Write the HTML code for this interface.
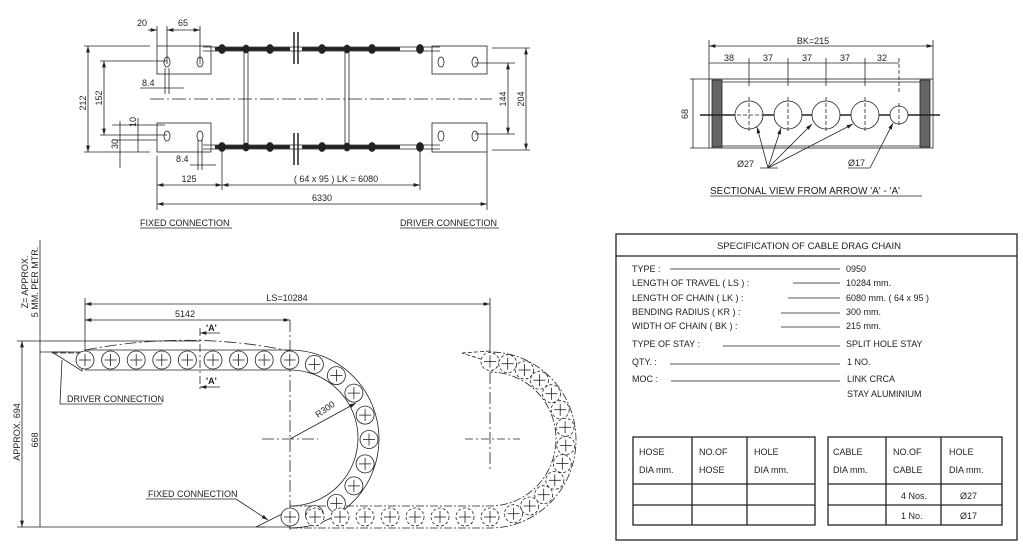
<!DOCTYPE html>
<html><head><meta charset="utf-8"><style>
html,body{margin:0;padding:0;background:#fff;}
svg{display:block;font-family:"Liberation Sans",sans-serif;}
text{fill:#222;}
</style></head><body>
<svg id="s" width="1023" height="547" viewBox="0 0 1023 547" xmlns="http://www.w3.org/2000/svg">
<defs>
<marker id="a" viewBox="0 0 10 6" refX="10" refY="3" markerWidth="8" markerHeight="5" orient="auto-start-reverse"><path d="M0,0L10,3L0,6z" fill="#222"/></marker>
</defs>
<g stroke="#222" stroke-width="0.8" fill="none">
<rect x="157" y="46" width="54" height="28"/>
<rect x="157" y="123" width="54" height="29"/>
<rect x="432" y="46" width="55" height="28"/>
<rect x="432" y="123" width="55" height="29"/>
<line x1="150" y1="99" x2="492" y2="99" stroke-dasharray="14,3,2,3"/>
<line x1="203" y1="47" x2="440" y2="47"/><line x1="203" y1="51" x2="440" y2="51"/>
<line x1="203" y1="145" x2="440" y2="145"/><line x1="203" y1="149" x2="440" y2="149"/>
<line x1="244" y1="49" x2="244" y2="147"/><line x1="248" y1="49" x2="248" y2="147"/>
<line x1="345" y1="49" x2="345" y2="147"/><line x1="349" y1="49" x2="349" y2="147"/>
<g stroke-width="1.5"><line x1="294" y1="32" x2="294" y2="64"/><line x1="298" y1="32" x2="298" y2="64"/><line x1="294" y1="133" x2="294" y2="165"/><line x1="298" y1="133" x2="298" y2="165"/></g>
<g stroke-width="3.5"><line x1="215" y1="49" x2="290" y2="49"/><line x1="302" y1="49" x2="400" y2="49"/><line x1="215" y1="147" x2="290" y2="147"/><line x1="302" y1="147" x2="400" y2="147"/></g>
<g fill="#222"><ellipse cx="222" cy="49" rx="3.5" ry="4.5"/><ellipse cx="246" cy="49" rx="3" ry="4"/><ellipse cx="270" cy="49" rx="3.5" ry="4.5"/><ellipse cx="322" cy="49" rx="3.5" ry="4.5"/><ellipse cx="347" cy="49" rx="3" ry="4"/><ellipse cx="372" cy="49" rx="3.5" ry="4.5"/><ellipse cx="420" cy="49" rx="3.5" ry="4.5"/>
<ellipse cx="222" cy="147" rx="3.5" ry="4.5"/><ellipse cx="246" cy="147" rx="3" ry="4"/><ellipse cx="270" cy="147" rx="3.5" ry="4.5"/><ellipse cx="322" cy="147" rx="3.5" ry="4.5"/><ellipse cx="347" cy="147" rx="3" ry="4"/><ellipse cx="372" cy="147" rx="3.5" ry="4.5"/><ellipse cx="420" cy="147" rx="3.5" ry="4.5"/></g>
<g><ellipse cx="167" cy="62" rx="3" ry="5"/><ellipse cx="200" cy="62" rx="3" ry="5"/><ellipse cx="167" cy="136" rx="3" ry="5"/><ellipse cx="200" cy="136" rx="3" ry="5"/><ellipse cx="441" cy="62" rx="3" ry="5"/><ellipse cx="475" cy="62" rx="3" ry="5"/><ellipse cx="441" cy="136" rx="3" ry="5"/><ellipse cx="475" cy="136" rx="3" ry="5"/></g>
<line x1="88" y1="46" x2="88" y2="152" marker-start="url(#a)" marker-end="url(#a)"/>
<line x1="84" y1="46" x2="150" y2="46"/><line x1="84" y1="152" x2="150" y2="152"/>
<line x1="104" y1="61" x2="104" y2="135" marker-start="url(#a)" marker-end="url(#a)"/>
<line x1="100" y1="61" x2="167" y2="61"/><line x1="100" y1="135" x2="167" y2="135"/>
<line x1="508" y1="63" x2="508" y2="134" marker-start="url(#a)" marker-end="url(#a)"/>
<line x1="475" y1="63" x2="515" y2="63"/><line x1="475" y1="134" x2="515" y2="134"/>
<line x1="526" y1="48" x2="526" y2="150" marker-start="url(#a)" marker-end="url(#a)"/>
<line x1="492" y1="48" x2="530" y2="48"/><line x1="492" y1="150" x2="530" y2="150"/>
<line x1="148" y1="30" x2="157" y2="30" marker-end="url(#a)"/><line x1="167" y1="30" x2="200" y2="30" marker-start="url(#a)" marker-end="url(#a)"/>
<line x1="157" y1="26" x2="157" y2="46"/><line x1="167" y1="26" x2="167" y2="64"/><line x1="200" y1="26" x2="200" y2="64"/>
<line x1="140" y1="88" x2="184" y2="88"/><line x1="165" y1="68" x2="165" y2="94"/><line x1="169" y1="68" x2="169" y2="94"/>
<line x1="190" y1="165" x2="216" y2="165"/><line x1="198" y1="140" x2="198" y2="170"/><line x1="202" y1="140" x2="202" y2="170"/>
<line x1="120" y1="121" x2="120" y2="168"/><line x1="138" y1="118" x2="138" y2="152"/><line x1="112" y1="125" x2="165" y2="125"/><line x1="112" y1="140" x2="157" y2="140"/>
<line x1="157" y1="156" x2="157" y2="210"/><line x1="222" y1="152" x2="222" y2="190"/><line x1="420" y1="152" x2="420" y2="190"/><line x1="487" y1="152" x2="487" y2="210"/>
<line x1="157" y1="185" x2="222" y2="185" marker-start="url(#a)" marker-end="url(#a)"/>
<line x1="222" y1="185" x2="420" y2="185" marker-start="url(#a)" marker-end="url(#a)"/>
<line x1="157" y1="204" x2="487" y2="204" marker-start="url(#a)" marker-end="url(#a)"/>
<line x1="140" y1="228" x2="232" y2="228"/><line x1="400" y1="228" x2="499" y2="228"/>
<line x1="709" y1="46" x2="933" y2="46" marker-start="url(#a)" marker-end="url(#a)"/>
<line x1="709" y1="40" x2="709" y2="79"/><line x1="933" y1="40" x2="933" y2="79"/>
<line x1="709" y1="63" x2="899" y2="63"/>
<line x1="749" y1="58" x2="749" y2="86"/><line x1="788" y1="58" x2="788" y2="86"/><line x1="826" y1="58" x2="826" y2="86"/><line x1="865" y1="58" x2="865" y2="86"/><line x1="899" y1="58" x2="899" y2="92" stroke-dasharray="4,2"/>
<rect x="709" y="79" width="224" height="69"/>
<line x1="722" y1="82" x2="920" y2="82"/><line x1="722" y1="146" x2="920" y2="146"/>
<rect x="712" y="80" width="10" height="67" fill="#666"/><rect x="920" y="80" width="10" height="67" fill="#666"/>
<line x1="700" y1="115" x2="940" y2="115" stroke-width="1.5"/>
<circle cx="749" cy="115" r="14" fill="#fff"/><circle cx="788" cy="115" r="14" fill="#fff"/><circle cx="826" cy="115" r="14" fill="#fff"/><circle cx="865" cy="115" r="14" fill="#fff"/><circle cx="899" cy="115" r="9" fill="#fff"/>
<g stroke-dasharray="4,2"><line x1="749" y1="97" x2="749" y2="133"/><line x1="788" y1="97" x2="788" y2="133"/><line x1="826" y1="97" x2="826" y2="133"/><line x1="865" y1="97" x2="865" y2="133"/><line x1="899" y1="103" x2="899" y2="127"/><line x1="731" y1="115" x2="767" y2="115"/></g>
<line x1="690" y1="79" x2="709" y2="79"/><line x1="690" y1="148" x2="709" y2="148"/><line x1="693" y1="79" x2="693" y2="148"/>
<line x1="760" y1="168" x2="778" y2="168"/><line x1="768" y1="168" x2="757" y2="127" marker-end="url(#a)"/><line x1="768" y1="168" x2="781" y2="128" marker-end="url(#a)"/><line x1="768" y1="168" x2="812" y2="124" marker-end="url(#a)"/><line x1="768" y1="168" x2="853" y2="124" marker-end="url(#a)"/>
<line x1="848" y1="168" x2="870" y2="168"/><line x1="870" y1="168" x2="893" y2="123" marker-end="url(#a)"/>
<line x1="710" y1="196" x2="922" y2="196"/>
<line x1="40" y1="240" x2="40" y2="527"/>
<line x1="22" y1="341" x2="22" y2="527" marker-start="url(#a)" marker-end="url(#a)"/>
<line x1="17" y1="341" x2="200" y2="341"/><line x1="17" y1="527" x2="265" y2="527"/>
<line x1="40" y1="352" x2="70" y2="352"/>
<line x1="85" y1="304" x2="490" y2="304" marker-start="url(#a)" marker-end="url(#a)"/>
<line x1="85" y1="320" x2="290" y2="320" marker-start="url(#a)" marker-end="url(#a)"/>
<line x1="85" y1="298" x2="85" y2="352"/><line x1="490" y1="298" x2="490" y2="355"/>
<path d="M85,350 Q190,330 290,351" stroke-dasharray="12,3,2,3"/>
<line x1="85" y1="350" x2="290" y2="350"/><line x1="85" y1="370" x2="290" y2="370"/>
<path d="M290,350 A89,89 0 0 1 290,528" /><path d="M290,370 A68,68 0 0 1 290,506"/>
<path d="M290,528 L490,528 A86,88 0 0 0 490,352" stroke-dasharray="8,2,2,2"/><path d="M290,506 L490,506 A66,67 0 0 0 490,372" stroke-dasharray="8,2,2,2"/>
<line x1="290" y1="320" x2="290" y2="530" stroke-dasharray="12,3,2,3"/>
<line x1="262" y1="439" x2="318" y2="439" stroke-dasharray="12,3,2,3"/>
<line x1="490" y1="352" x2="490" y2="470" stroke-dasharray="12,3,2,3"/>
<line x1="465" y1="439" x2="520" y2="439" stroke-dasharray="8,3,2,3"/>
<line x1="290" y1="439" x2="356" y2="403" marker-end="url(#a)"/>
<line x1="200" y1="328" x2="200" y2="392" stroke-dasharray="8,3,2,3"/>
<line x1="200" y1="333" x2="220" y2="333" marker-start="url(#a)"/><line x1="200" y1="387" x2="220" y2="387" marker-start="url(#a)"/>
<polygon points="52,352 85,352 82,371" />
<line x1="52" y1="353" x2="85" y2="353" stroke-dasharray="6,2"/>
<polyline points="60,404 62,360"/><line x1="60" y1="404" x2="162" y2="404"/>
<polygon points="256,527 290,510 290,527"/>
<line x1="146" y1="499" x2="236" y2="499"/><line x1="236" y1="499" x2="268" y2="520" marker-end="url(#a)"/>
<polygon points="462,353 490,351 490,362" stroke-dasharray="4,2"/>
<g id="chain"></g>
<rect x="616" y="234" width="401" height="306" stroke-width="1.3"/>
<line x1="616" y1="256" x2="1017" y2="256" stroke-width="1.3"/>
<line x1="670" y1="269" x2="840" y2="269"/>
<line x1="793" y1="283" x2="840" y2="283"/>
<line x1="788" y1="298" x2="840" y2="298"/>
<line x1="781" y1="313" x2="840" y2="313"/>
<line x1="781" y1="327" x2="840" y2="327"/>
<line x1="723" y1="346" x2="840" y2="346"/>
<line x1="670" y1="364" x2="840" y2="364"/>
<line x1="671" y1="381" x2="840" y2="381"/>
<g stroke-width="1.3">
<rect x="633" y="437" width="182" height="88"/><line x1="633" y1="484" x2="815" y2="484"/><line x1="633" y1="505" x2="815" y2="505"/><line x1="692" y1="437" x2="692" y2="525"/><line x1="747" y1="437" x2="747" y2="525"/>
<rect x="828" y="437" width="174" height="88"/><line x1="828" y1="484" x2="1002" y2="484"/><line x1="828" y1="505" x2="1002" y2="505"/><line x1="886" y1="437" x2="886" y2="525"/><line x1="941" y1="437" x2="941" y2="525"/>
</g>
</g>
<g font-size="9">
<text x="137" y="26">20</text><text x="178" y="26">65</text>
<text x="142" y="86">8.4</text><text x="176" y="162">8.4</text>
<text transform="translate(86,103) rotate(-90)" text-anchor="middle">212</text>
<text transform="translate(102,98) rotate(-90)" text-anchor="middle">152</text>
<text transform="translate(506,99) rotate(-90)" text-anchor="middle">144</text>
<text transform="translate(524,99) rotate(-90)" text-anchor="middle">204</text>
<text transform="translate(136,122) rotate(-90)" text-anchor="middle">10</text>
<text transform="translate(118,144) rotate(-90)" text-anchor="middle">30</text>
<text x="189" y="182" text-anchor="middle">125</text>
<text x="336" y="182" text-anchor="middle">( 64 x 95 ) LK = 6080</text>
<text x="322" y="201" text-anchor="middle">6330</text>
<text x="140" y="226">FIXED CONNECTION</text><text x="400" y="226">DRIVER CONNECTION</text>
<text x="813" y="44" text-anchor="middle">BK=215</text>
<text x="729" y="61" text-anchor="middle">38</text><text x="768" y="61" text-anchor="middle">37</text><text x="807" y="61" text-anchor="middle">37</text><text x="845" y="61" text-anchor="middle">37</text><text x="882" y="61" text-anchor="middle">32</text>
<text transform="translate(688,114) rotate(-90)" text-anchor="middle">68</text>
<text x="737" y="167">Ø27</text><text x="848" y="166">Ø17</text>
<text x="710" y="194" font-size="10">SECTIONAL VIEW FROM ARROW  'A' - 'A'</text>
<text transform="translate(28,282) rotate(-90)" text-anchor="middle">Z= APPROX.</text>
<text transform="translate(38,282) rotate(-90)" text-anchor="middle">5 MM. PER MTR.</text>
<text transform="translate(20,432) rotate(-90)" text-anchor="middle">APPROX. 694</text>
<text transform="translate(38,440) rotate(-90)" text-anchor="middle">668</text>
<text x="287" y="301" text-anchor="middle">LS=10284</text>
<text x="185" y="317" text-anchor="middle">5142</text>
<text x="206" y="331" font-weight="bold">'A'</text><text x="206" y="384" font-weight="bold">'A'</text>
<text transform="translate(318,418) rotate(-35)">R300</text>
<text x="67" y="402">DRIVER CONNECTION</text>
<text x="148" y="497">FIXED CONNECTION</text>
<text x="809" y="249" text-anchor="middle" font-size="9.5">SPECIFICATION OF CABLE DRAG CHAIN</text>
<text x="632" y="272">TYPE :</text><text x="846" y="272">0950</text>
<text x="632" y="286">LENGTH OF TRAVEL ( LS ) :</text><text x="846" y="286">10284 mm.</text>
<text x="632" y="301">LENGTH OF CHAIN ( LK ) :</text><text x="846" y="301">6080 mm. ( 64 x 95 )</text>
<text x="632" y="315">BENDING RADIUS ( KR ) :</text><text x="846" y="315">300 mm.</text>
<text x="632" y="329">WIDTH OF CHAIN ( BK ) :</text><text x="846" y="329">215 mm.</text>
<text x="632" y="347">TYPE OF STAY :</text><text x="846" y="347">SPLIT HOLE STAY</text>
<text x="632" y="365">QTY. :</text><text x="847" y="365">1 NO.</text>
<text x="632" y="382">MOC :</text><text x="847" y="382">LINK CRCA</text><text x="847" y="397">STAY ALUMINIUM</text>
<text x="639" y="455">HOSE</text><text x="639" y="473">DIA mm.</text>
<text x="699" y="455">NO.OF</text><text x="699" y="473">HOSE</text>
<text x="754" y="455">HOLE</text><text x="754" y="473">DIA mm.</text>
<text x="833" y="455">CABLE</text><text x="833" y="473">DIA mm.</text>
<text x="893" y="455">NO.OF</text><text x="893" y="473">CABLE</text>
<text x="949" y="455">HOLE</text><text x="949" y="473">DIA mm.</text>
<text x="901" y="499">4 Nos.</text><text x="960" y="499">Ø27</text>
<text x="901" y="519">1 No.</text><text x="960" y="519">Ø17</text>
</g>
</svg>
<script>
(function(){
var g=document.getElementById('chain'),h='';
function c(x,y,d){h+='<circle cx="'+x.toFixed(1)+'" cy="'+y.toFixed(1)+'" r="9" fill="#fff"'+(d?' stroke-dasharray="3,2"':'')+'/>'+
'<line x1="'+(x-6).toFixed(1)+'" y1="'+y.toFixed(1)+'" x2="'+(x+6).toFixed(1)+'" y2="'+y.toFixed(1)+'"/><line x1="'+x.toFixed(1)+'" y1="'+(y-6).toFixed(1)+'" x2="'+x.toFixed(1)+'" y2="'+(y+6).toFixed(1)+'"/>';}
for(var i=0;i<9;i++)c(85+i*25.6,360,0);
for(var t=18;t<=162;t+=18){var r=t*Math.PI/180;c(290+79*Math.sin(r),439.5-79*Math.cos(r),0);}
for(var i=0;i<9;i++)c(290+i*25,517,i>0);
for(var t=0;t<=162;t+=13.5){var r=t*Math.PI/180;c(490+76*Math.sin(r),439.5-78*Math.cos(r),1);}
g.innerHTML=h;
})();
</script>
</body></html>
